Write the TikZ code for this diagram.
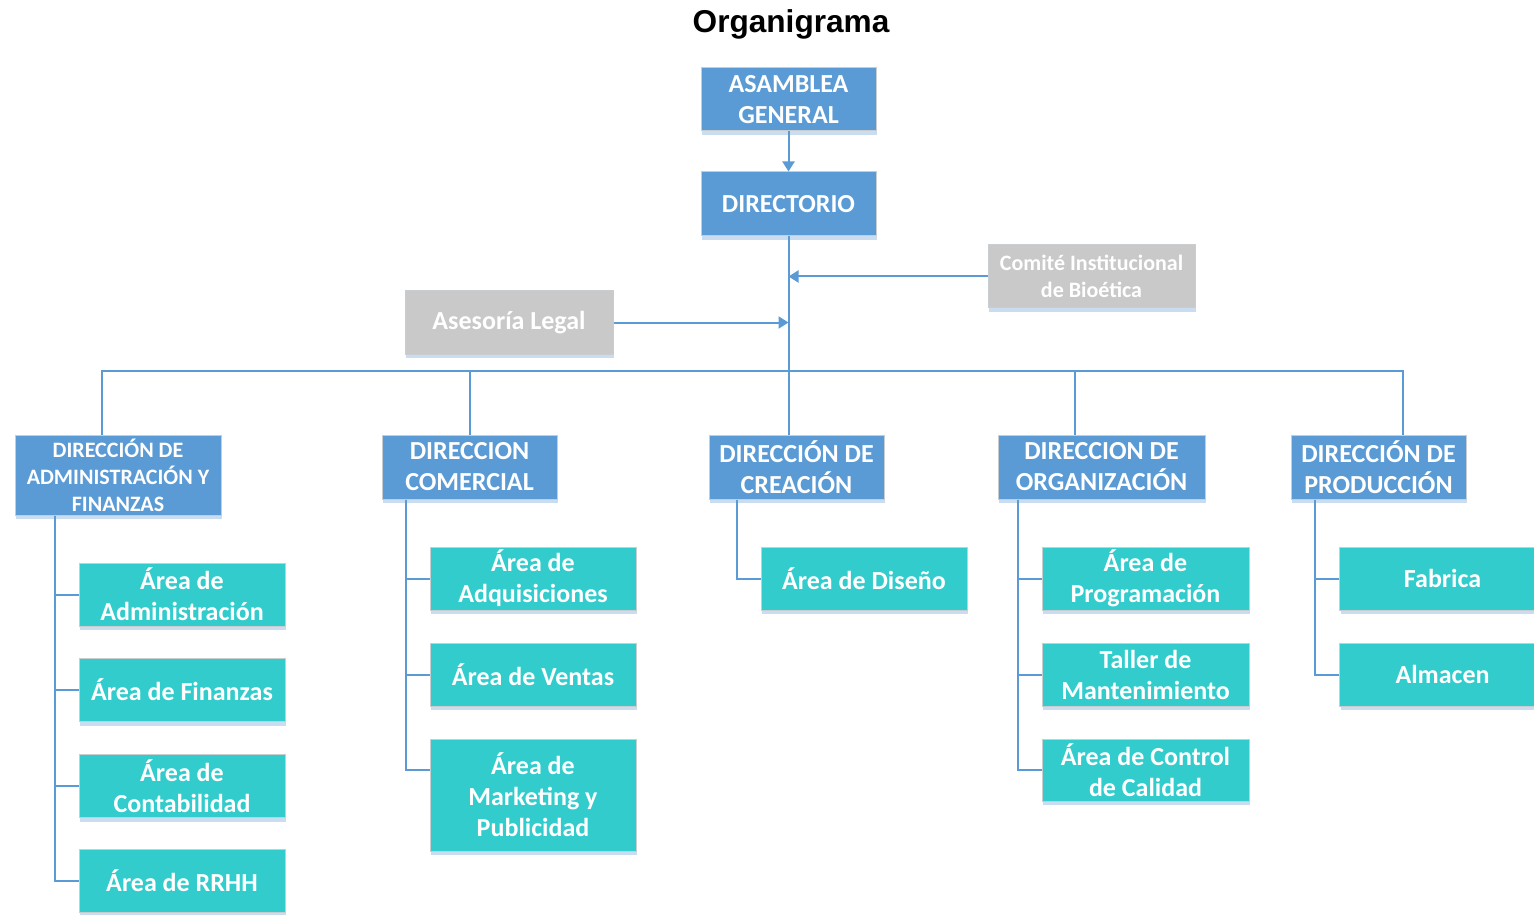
\documentclass[tikz,border=0pt]{standalone}
\usepackage{fontspec}
\setmainfont{Carlito}
\newfontfamily\titlefont{Liberation Sans}
\usepackage{tikz}
\usetikzlibrary{positioning, arrows.meta, shadows}

\definecolor{dirblue}{HTML}{5B9BD5}
\definecolor{areateal}{HTML}{33CCCC}
\definecolor{asesgray}{HTML}{C9C9C9}
\definecolor{edgegray}{HTML}{C8CDD2}
\definecolor{shadeblue}{HTML}{C9DCF0}

\tikzset{
  box/.style={draw=edgegray, line width=0.5pt, text=white, align=center, inner sep=0pt,
    font=\bfseries\fontsize{13}{15.5}\selectfont,
    drop shadow={shadow xshift=0.5pt, shadow yshift=-2pt, fill=shadeblue, opacity=1}},
  smalltext/.style={font=\bfseries\fontsize{11}{13.5}\selectfont},
  dirbox/.style={box, fill=dirblue, minimum width=87.5pt, minimum height=32pt},
  areabox/.style={box, fill=areateal, minimum width=103pt, minimum height=31.5pt},
  asesbox/.style={box, fill=asesgray, minimum height=31.5pt},
  link/.style={draw=dirblue, line width=1pt},
  tip/.style={-{Triangle[length=5pt,width=6pt]}}
}

\begin{document}
\begin{tikzpicture}[x=0.5pt, y=-0.5pt]
\useasboundingbox (0,0) rectangle (1534,914);

% title
\node[anchor=base] (titulo) at (791,33) {\titlefont\bfseries\fontsize{15.8}{18}\selectfont Organigrama};

% top of the chart
\node[dirbox, minimum height=31.5pt] (asamblea) at (788.5,99.5) {ASAMBLEA\\GENERAL};
\node[dirbox] (directorio) at (788.5,204) {DIRECTORIO};
\node[asesbox, smalltext, minimum width=103.5pt] (comite) at (1091.5,276.5) {Comité Institucional\\de Bioética};
\node[asesbox, minimum width=104pt] (asesoria) at (509,322.5) {Asesoría Legal};

% direcciones
\node[dirbox, smalltext, minimum width=103pt, minimum height=40pt] (dadm) at (118,475) {DIRECCIÓN DE\\ADMINISTRACIÓN Y\\FINANZAS};
\node[dirbox] (dcom) at (469.5,467) {DIRECCION\\COMERCIAL};
\node[dirbox] (dcre) at (796.5,467) {DIRECCIÓN DE\\CREACIÓN};
\node[dirbox, minimum width=103.5pt] (dorg) at (1101.5,467) {DIRECCION DE\\ORGANIZACIÓN};
\node[dirbox] (dpro) at (1378.5,467) {DIRECCIÓN DE\\PRODUCCIÓN};

% areas
\node[areabox] (aadm) at (182,594.5) {Área de\\Administración};
\node[areabox] (afin) at (182,690) {Área de Finanzas};
\node[areabox] (acon) at (182,786) {Área de\\Contabilidad};
\node[areabox] (arrhh) at (182,881) {Área de RRHH};

\node[areabox] (aadq) at (533,578.5) {Área de\\Adquisiciones};
\node[areabox] (aven) at (533,674.5) {Área de Ventas};
\node[areabox, minimum height=56pt] (amkt) at (533,795) {Área de\\Marketing y\\Publicidad};

\node[areabox] (adis) at (864,578.5) {Área de Diseño};

\node[areabox, minimum width=103.5pt] (aprog) at (1145.5,578.5) {Área de\\Programación};
\node[areabox, minimum width=103.5pt] (atal) at (1145.5,674.5) {Taller de\\Mantenimiento};
\node[areabox, minimum width=103.5pt, minimum height=31pt] (acal) at (1145.5,770) {Área de Control\\de Calidad};

\node[areabox] (afab) at (1442.5,578.5) {Fabrica};
\node[areabox] (aalm) at (1442.5,674.5) {Almacen};

% connectors
\coordinate (bus) at (788,371);
\draw[link, tip] (asamblea) -- (directorio);
\draw[link] (directorio.south) -- (directorio.south |- dcre.north);
\draw[link, tip] (comite.west) -- (comite.west -| directorio.south);
\draw[link, tip] (asesoria.east) -- (asesoria.east -| directorio.south);
\draw[link] ([xshift=-8pt]dadm.north) |- (bus);
\draw[link] (dcom.north) -- (dcom.north |- bus);
\draw[link] ([xshift=-13.25pt]dorg.north) -- ([xshift=-13.25pt]dorg.north |- bus);
\draw[link] ([xshift=12.25pt]dpro.north) |- (bus);

\foreach \a in {aadm, afin, acon, arrhh}
  \draw[link] ([xshift=20pt]dadm.south west) |- (\a.west);
\foreach \a in {aadq, aven}
  \draw[link] ([xshift=12pt]dcom.south west) |- (\a.west);
\draw[link] ([xshift=12pt]dcom.south west) |- ([yshift=12.5pt]amkt.west);
\draw[link] ([xshift=14pt]dcre.south west) |- (adis.west);
\foreach \a in {aprog, atal, acal}
  \draw[link] ([xshift=10pt]dorg.south west) |- (\a.west);
\foreach \a in {afab, aalm}
  \draw[link] ([xshift=12pt]dpro.south west) |- (\a.west);
\end{tikzpicture}
\end{document}
